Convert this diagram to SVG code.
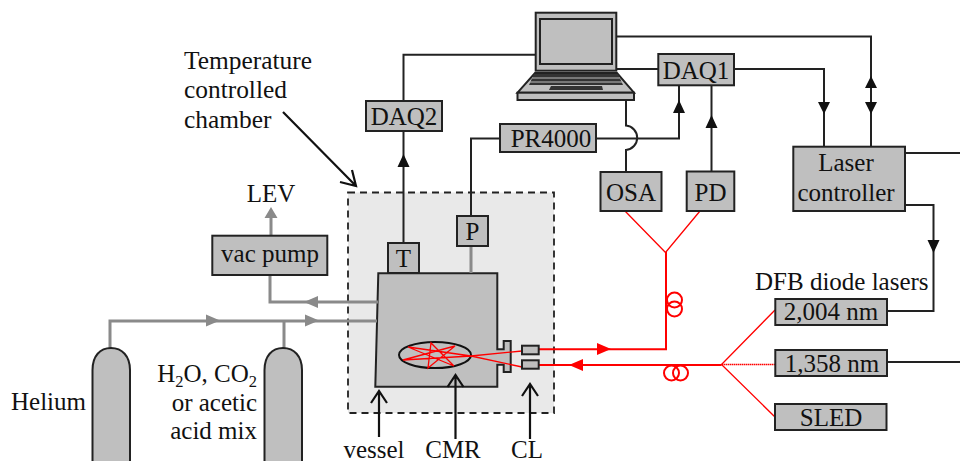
<svg xmlns="http://www.w3.org/2000/svg" width="960" height="461" viewBox="0 0 960 461">
<style>
text{font-family:"Liberation Serif","Times New Roman",serif;font-size:25px;fill:#111}
.m{text-anchor:middle}.e{text-anchor:end}.t{font-size:25.4px}
.b{fill:#bfbfbf;stroke:#222;stroke-width:2}
.k{fill:none;stroke:#222;stroke-width:2}
.g{fill:none;stroke:#8a8a8a;stroke-width:3}
.r{fill:none;stroke:#f00;stroke-width:1.3}
.R{fill:none;stroke:#f00;stroke-width:2}
.o{fill:none;stroke:#111;stroke-width:2.2}
.ka{fill:#111}.ga{fill:#8a8a8a}.ra{fill:#f00}
</style>
<rect id="chamber" x="348" y="192.5" width="206" height="220.500" fill="#e9e9e9" stroke="#222" stroke-width="1.800" stroke-dasharray="7 5"/>
<g id="vessel"><path class="b" d="M378.300 273.300H497.300V349.300H503.700V341H510.700V372H503.700V364.700H497.300V386.700H375.300Z"/>
<ellipse cx="435" cy="355" rx="36" ry="13" fill="#bfbfbf" stroke="#111" stroke-width="2"/>
<path class="r" d="M522 351L471 356L403 360L455 346L428 368L431 343L454 366L408 347L471 356L522 367"/></g>
<g id="connectors">
<path class="k" d="M536 54.700H403.500V101M403.500 131V243M471 216V138.500H500M596 138.500H679V85M616 69H658M734 69H824V147M616 36.500H871V147M626 100V125.500A12.300 12.300 0 0 1 626 150V172M711.500 171V85M905 153H960M905 205H933.500V311H888M887 362H960"/>
<path class="g" d="M471 246V273M271 235V215M270 275V302H378M110 348V321H377M284 348V321"/>
<path class="ka" d="M403.500 154l-6 13h12zM679 100l-6 13h12zM711.500 115l-6 13h12zM871 76l-6 12h12zM824 114l-6-12h12zM871 114l-6-12h12zM933.500 253l-6-13h12z"/>
<path class="ga" d="M271 207l-6.500 11h13zM304 302l14-6v12zM220 320.500l-14-6v12zM319 320.500l-14-6v12z"/>
<path class="o" d="M283 112L356 186M340 182L356 186L352 170M379 437V391M371 403L379 391L387 403M455.500 439V375M447.500 387L455.500 375L463.500 387M530 439V384M522 396L530 384L538 396"/>
<path class="R" d="M538.500 349.300H666V252M539 365H721.500"/>
<path class="r" d="M625 211L665.500 252.500L700 211M775 310L721.500 364.500L775 417"/>
<path class="r" stroke-dasharray="1.500 .5" d="M721.500 364.500H775"/>
<path class="ra" d="M611 349l-14-6v12zM569 365l14-6v12z"/>
<circle class="R" cx="674.500" cy="300" r="7.500"/><circle class="R" cx="674.500" cy="309" r="7.500"/>
<circle class="R" cx="671.500" cy="373" r="7.500"/><circle class="R" cx="680.500" cy="373" r="7.500"/>
</g>
<g id="cl"><rect class="b" x="522" y="345.700" width="16.700" height="8.600"/><rect class="b" x="522" y="360.300" width="16.700" height="8.400"/></g>
<g id="laptop">
<rect class="b" x="535.700" y="12.700" width="80.600" height="58"/>
<rect class="b" x="540" y="19" width="72" height="45"/>
<path class="b" d="M535 73H617L634 92.700H517.500Z"/>
<rect class="b" x="517.500" y="92.700" width="116.500" height="7.300"/>
<path fill="#333" d="M534 74H618L623 85H529Z"/>
<path stroke="#bfbfbf" stroke-width="1" d="M532 78H620M530 82H622"/>
<path fill="#333" d="M551 86H602L603 90H549Z"/>
</g>
<g id="daq1"><rect class="b" x="658.300" y="54" width="75.700" height="31.300"/><text class="m" x="696" y="79">DAQ1</text></g>
<g id="daq2"><rect class="b" x="366" y="101" width="76" height="30"/><text class="m" x="404" y="125">DAQ2</text></g>
<g id="pr4000"><rect class="b" x="500" y="124" width="96" height="28"/><text class="m" x="551" y="146.500">PR4000</text></g>
<g id="osa"><rect class="b" x="600.500" y="172" width="61" height="39"/><text class="m" x="631" y="201">OSA</text></g>
<g id="pd"><rect class="b" x="686.700" y="171.500" width="47.600" height="39.500"/><text class="m" x="710.500" y="201">PD</text></g>
<g id="laser-controller"><rect class="b" x="793.300" y="146.700" width="111.700" height="64.300"/><text class="m" x="846" y="171">Laser</text><text class="m" x="846" y="201">controller</text></g>
<g id="t"><rect class="b" x="388" y="243" width="31" height="30"/><text class="m" x="403.500" y="267">T</text></g>
<g id="p"><rect class="b" x="457" y="216" width="31" height="30"/><text class="m" x="472.500" y="240">P</text></g>
<g id="vac-pump"><rect class="b" x="212.300" y="235.700" width="115" height="39.300"/><text class="m" x="270" y="262">vac pump</text></g>
<g id="laser-2004"><rect class="b" x="775.300" y="299" width="111.700" height="26"/><text class="m" x="831" y="320">2,004 nm</text></g>
<g id="laser-1358"><rect class="b" x="775.300" y="350" width="111.700" height="26"/><text class="m" x="832" y="372">1,358 nm</text></g>
<g id="sled"><rect class="b" x="775" y="404" width="111.500" height="26"/><text class="m" x="831" y="426">SLED</text></g>
<g id="cyl-he"><path class="b" d="M92.500 470V370C92.500 356 100 348 111 348S130 356 130 370V470"/><text class="e" x="86" y="410">Helium</text></g>
<g id="cyl-mix"><path class="b" d="M264.500 470V370C264.500 356 272 348 283 348S302 356 302 370V470"/>
<text class="e" x="257" y="382">H<tspan font-size="16.500" dy="5">2</tspan><tspan dy="-5">O, CO</tspan><tspan font-size="16.500" dy="5">2</tspan></text>
<text class="e" x="257" y="411">or acetic</text><text class="e" x="257" y="439">acid mix</text></g>
<g id="labels">
<text class="t" x="184" y="69">Temperature</text><text class="t" x="184" y="98">controlled</text><text class="t" x="184" y="128">chamber</text>
<text class="m" x="271" y="202">LEV</text>
<text x="755" y="290">DFB diode lasers</text>
<text class="m" x="374" y="458">vessel</text><text class="m" x="453" y="458">CMR</text><text class="m" x="527" y="458">CL</text>
</g>
</svg>
